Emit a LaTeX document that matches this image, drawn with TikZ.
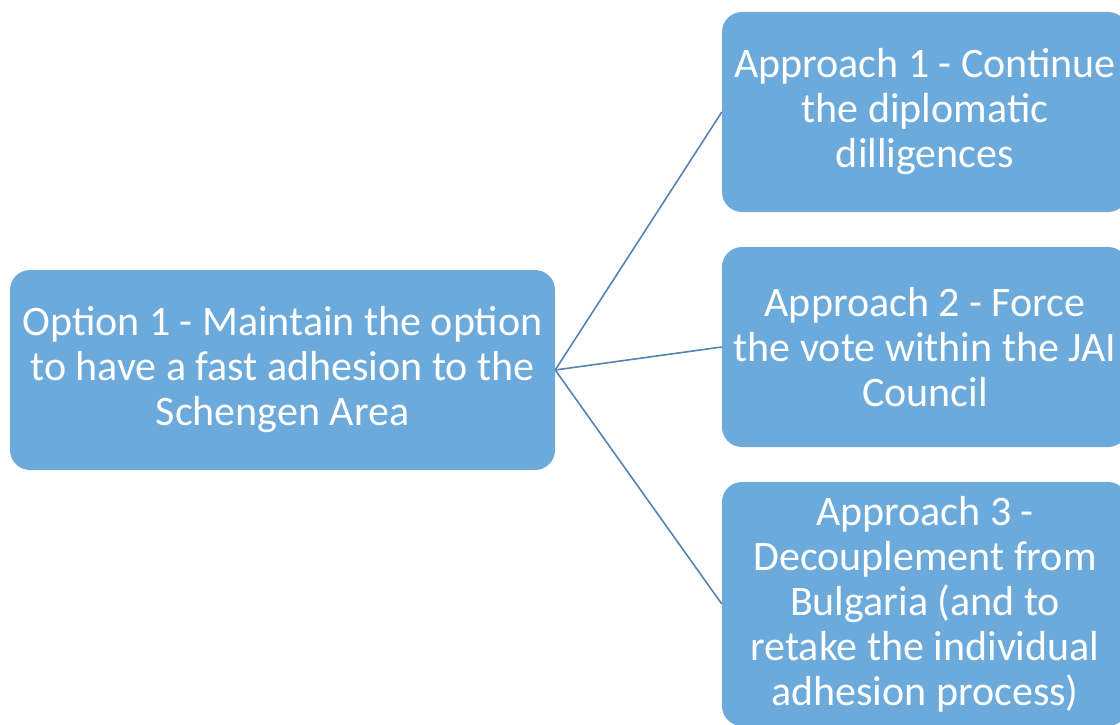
\documentclass[tikz,border=0pt]{standalone}
\usepackage{fontspec}
\setmainfont{Carlito}
\definecolor{boxfill}{RGB}{108,170,219}
\definecolor{boxline}{RGB}{84,130,180}
\begin{document}
\begin{tikzpicture}[x=1pt,y=-1pt,
  box/.style={draw=none, fill=boxfill, rounded corners=20pt, text=white, align=center,
    font=\fontsize{42}{45}\selectfont, inner sep=0pt},
  link/.style={draw=boxline, line width=1.6pt}]
\useasboundingbox (0,0) rectangle (1120,725);
\clip (0,0) rectangle (1120,725);
\node[box, minimum width=545pt, minimum height=200pt] (opt) at (282.5,370)
  {Option 1 - Maintain the option\\to have a fast adhesion to the\\Schengen Area};
\node[box, minimum width=406pt, minimum height=200pt] (a1) at (925,112)
  {Approach 1 - Continue\\the diplomatic\\dilligences};
\node[box, minimum width=406pt, minimum height=200pt] (a2) at (925,347)
  {Approach 2 - Force\\the vote within the JAI\\Council};
\node[box, minimum width=406pt, minimum height=244pt] (a3) at (925,604)
  {Approach 3 -\\Decouplement from\\Bulgaria (and to\\retake the individual\\adhesion process)};
\draw[link] (opt.east) -- (a1.west);
\draw[link] (opt.east) -- (a2.west);
\draw[link] (opt.east) -- (a3.west);
\end{tikzpicture}
\end{document}
